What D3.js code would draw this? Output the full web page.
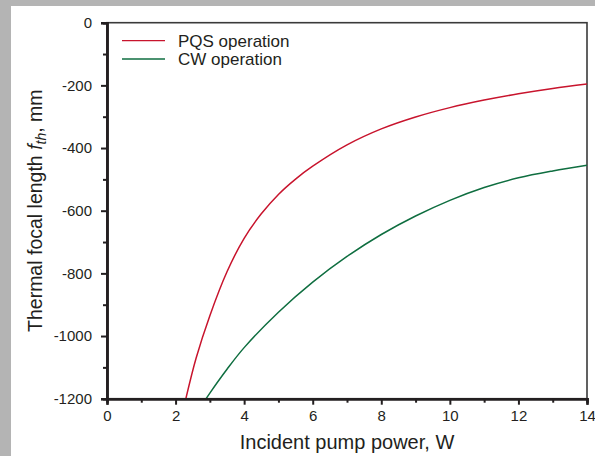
<!DOCTYPE html>
<html>
<head>
<meta charset="utf-8">
<script src="https://cdn.jsdelivr.net/npm/d3@7"></script>
<style>
  html, body { margin: 0; padding: 0; background: #b4b4b4; }
  svg { display: block; }
  text { font-family: "Liberation Sans", Arial, Helvetica, sans-serif; fill: #231f20; }
</style>
</head>
<body>
<svg id="chart" width="595" height="456"></svg>
<script>
// ---- Data ----
const pqsPower = [2.3, 2.6, 3.0, 3.5, 4.0, 4.5, 5.0, 5.5, 6.0, 7.0, 8.0, 9.0, 10.0, 11.0, 12.0, 13.0, 14.0];
const pqsFocal = [-1200, -1070, -935, -795, -688, -610, -548, -499, -458, -390, -339, -301, -271, -247, -227, -210, -196];
const cwPower = [2.89, 3.0, 3.5, 4.0, 5.0, 6.0, 7.0, 8.0, 9.0, 10.0, 11.0, 12.0, 13.0, 14.0];
const cwFocal = [-1200, -1182, -1106, -1037, -924, -828, -746, -676, -617, -567, -526, -495, -473, -455];
const seriesNames = ["PQS operation", "CW operation"];
const xTickValues = [0, 2, 4, 6, 8, 10, 12, 14];
const xMinorTicks = [1, 3, 5, 7, 9, 11, 13];
const yTickValues = [0, -200, -400, -600, -800, -1000, -1200];
const yMinorTicks = [-100, -300, -500, -700, -900, -1100];

const colors = ["#c8142d", "#0f6e40"];
const ink = "#231f20";

const svg = d3.select("#chart");
// white panel
svg.append("rect").attr("x", 11).attr("y", 6).attr("width", 584).attr("height", 450).attr("fill", "#ffffff");

const m = { left: 107, right: 587, top: 22.7, bottom: 398.7 };
const x = d3.scaleLinear().domain([0, 14]).range([m.left, m.right]);
const y = d3.scaleLinear().domain([-1200, 0]).range([m.bottom, m.top]);

// frame (top & right)
svg.append("rect")
  .attr("x", m.left).attr("y", m.top)
  .attr("width", m.right - m.left).attr("height", m.bottom - m.top)
  .attr("fill", "none").attr("stroke", "#3a3a3a").attr("stroke-width", 1.6);

// curves
const series = [
  pqsPower.map((p, i) => [p, pqsFocal[i]]),
  cwPower.map((p, i) => [p, cwFocal[i]])
];
const line = d3.line().x(d => x(d[0])).y(d => y(d[1])).curve(d3.curveCatmullRom.alpha(0.5));
svg.append("clipPath").attr("id", "clip").append("rect")
  .attr("x", m.left).attr("y", m.top).attr("width", m.right - m.left).attr("height", m.bottom - m.top);
series.forEach((s, i) => {
  svg.append("path").datum(s)
    .attr("d", line)
    .attr("fill", "none")
    .attr("stroke", colors[i])
    .attr("stroke-width", 1.5)
    .attr("clip-path", "url(#clip)");
});

// x axis
const xAxis = svg.append("g").attr("transform", `translate(0,${m.bottom})`)
  .call(d3.axisBottom(x).tickValues(xTickValues).tickSize(6).tickPadding(6).tickFormat(d3.format("d")));
const xMinor = svg.append("g").attr("transform", `translate(0,${m.bottom})`)
  .call(d3.axisBottom(x).tickValues(xMinorTicks).tickSize(4).tickFormat(""));
// y axis
const yAxis = svg.append("g").attr("transform", `translate(${m.left},0)`)
  .call(d3.axisLeft(y).tickValues(yTickValues).tickSize(6).tickPadding(9).tickFormat(d => d === 0 ? "0" : "-" + Math.abs(d)));
const yMinor = svg.append("g").attr("transform", `translate(${m.left},0)`)
  .call(d3.axisLeft(y).tickValues(yMinorTicks).tickSize(4).tickFormat(""));

[xAxis, xMinor, yAxis, yMinor].forEach(g => {
  g.select(".domain").attr("stroke", ink).attr("stroke-width", 2.5);
  g.selectAll(".tick line").attr("stroke", ink).attr("stroke-width", 2);
  g.selectAll(".tick text").attr("font-size", 15).attr("fill", ink)
    .style("font-family", "'Liberation Sans', Arial, sans-serif");
});
xAxis.selectAll(".tick text").attr("dy", "0.71em");

// axis titles
svg.append("text")
  .attr("x", (m.left + m.right) / 2).attr("y", 449)
  .attr("text-anchor", "middle").attr("font-size", 20)
  .text("Incident pump power, W");

const yt = svg.append("text")
  .attr("transform", `translate(42,${(m.top + m.bottom) / 2}) rotate(-90)`)
  .attr("text-anchor", "middle").attr("font-size", 19.5);
yt.append("tspan").text("Thermal focal length ");
yt.append("tspan").attr("font-style", "italic").text("f");
yt.append("tspan").attr("font-style", "italic").attr("font-size", 14).attr("dy", 4).text("th");
yt.append("tspan").attr("dy", -4).text(", mm");

// legend
const legendY = [40.7, 59];
seriesNames.forEach((name, i) => {
  svg.append("line")
    .attr("x1", 122).attr("x2", 165)
    .attr("y1", legendY[i]).attr("y2", legendY[i])
    .attr("stroke", colors[i]).attr("stroke-width", 1.3);
  svg.append("text")
    .attr("x", 178).attr("y", legendY[i])
    .attr("dy", "0.36em").attr("font-size", 17)
    .text(name);
});
</script>
</body>
</html>
